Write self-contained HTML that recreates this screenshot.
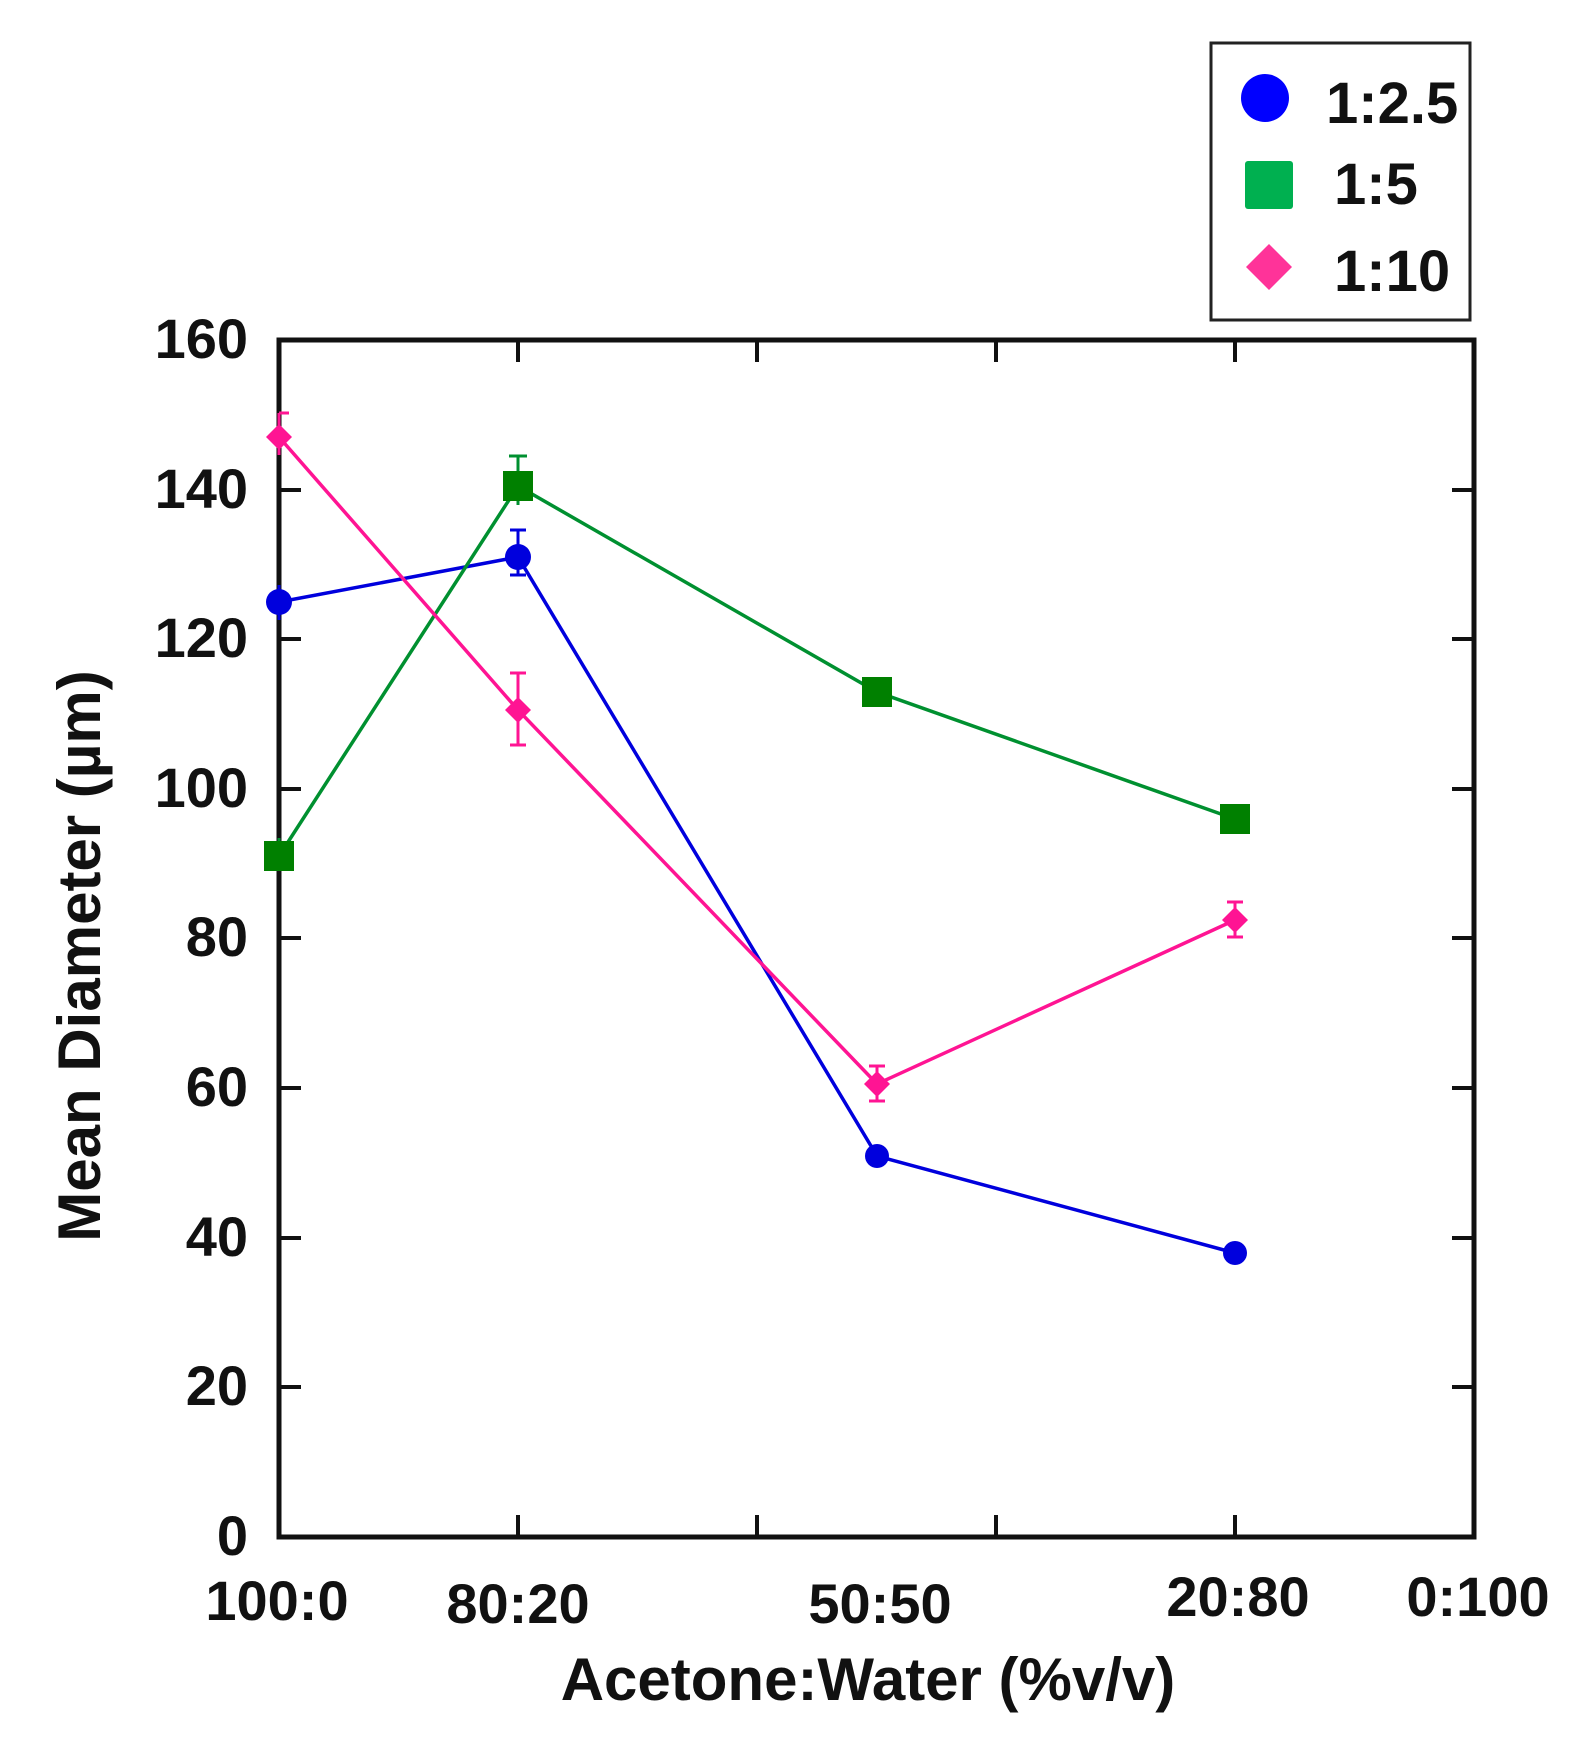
<!DOCTYPE html>
<html><head><meta charset="utf-8"><style>html,body{margin:0;padding:0;background:#fff}svg{display:block}</style></head>
<body>
<svg width="1577" height="1763" viewBox="0 0 1577 1763" xmlns="http://www.w3.org/2000/svg" font-family="Liberation Sans, sans-serif" font-weight="bold">
<rect width="1577" height="1763" fill="#fff"/>
<!-- legend -->
<rect x="1211" y="43" width="259" height="277" fill="#fff" stroke="#222" stroke-width="3"/>
<circle cx="1265" cy="98" r="24" fill="#0000ff"/>
<rect x="1245" y="161" width="48" height="48" rx="3" fill="#00b050"/>
<polygon points="1269,244 1292,267 1269,290 1246,267" fill="#ff3399"/>
<g font-size="58" fill="#111">
<text x="1326" y="123">1:2.5</text>
<text x="1334" y="204">1:5</text>
<text x="1334" y="291">1:10</text>
</g>
<!-- axes -->
<rect x="279" y="340" width="1195" height="1197" fill="none" stroke="#111" stroke-width="5"/>
<g stroke="#111" stroke-width="4">
<line x1="518" y1="340" x2="518" y2="362"/><line x1="757" y1="340" x2="757" y2="362"/><line x1="996" y1="340" x2="996" y2="362"/><line x1="1235" y1="340" x2="1235" y2="362"/>
<line x1="518" y1="1537" x2="518" y2="1515"/><line x1="757" y1="1537" x2="757" y2="1515"/><line x1="996" y1="1537" x2="996" y2="1515"/><line x1="1235" y1="1537" x2="1235" y2="1515"/>
<line x1="279" y1="490" x2="301" y2="490"/><line x1="279" y1="639" x2="301" y2="639"/><line x1="279" y1="789" x2="301" y2="789"/><line x1="279" y1="938" x2="301" y2="938"/><line x1="279" y1="1088" x2="301" y2="1088"/><line x1="279" y1="1238" x2="301" y2="1238"/><line x1="279" y1="1387" x2="301" y2="1387"/>
<line x1="1474" y1="490" x2="1452" y2="490"/><line x1="1474" y1="639" x2="1452" y2="639"/><line x1="1474" y1="789" x2="1452" y2="789"/><line x1="1474" y1="938" x2="1452" y2="938"/><line x1="1474" y1="1088" x2="1452" y2="1088"/><line x1="1474" y1="1238" x2="1452" y2="1238"/><line x1="1474" y1="1387" x2="1452" y2="1387"/>
</g>
<g font-size="56" fill="#111" text-anchor="end">
<text x="248" y="358">160</text><text x="248" y="508">140</text><text x="248" y="657">120</text><text x="248" y="807">100</text><text x="248" y="956">80</text><text x="248" y="1106">60</text><text x="248" y="1256">40</text><text x="248" y="1405">20</text><text x="248" y="1555">0</text>
</g>
<g font-size="56" fill="#111" text-anchor="middle">
<text x="277" y="1620">100:0</text><text x="518" y="1623">80:20</text><text x="880" y="1623">50:50</text><text x="1238" y="1616">20:80</text><text x="1478" y="1616">0:100</text>
</g>
<text x="868" y="1700" font-size="60" text-anchor="middle" fill="#111">Acetone:Water (%v/v)</text>
<text transform="translate(100,956) rotate(-90)" font-size="60" text-anchor="middle" fill="#111">Mean Diameter (µm)</text>
<!-- series -->
<g stroke-width="3.5" fill="none">
<polyline stroke="#0000dd" points="279,602 518,557 877,1156 1235,1253"/>
<polyline stroke="#009030" points="279,856 518,486 877,692 1235,819"/>
<polyline stroke="#ff1493" points="279,437 518,710 877,1084 1235,920"/>
</g>
<g stroke-width="3">
<g stroke="#0000dd"><line x1="279" y1="585" x2="279" y2="620"/><line x1="518" y1="530" x2="518" y2="575"/><line x1="510" y1="530" x2="526" y2="530"/><line x1="510" y1="575" x2="526" y2="575"/><line x1="1235" y1="1245" x2="1235" y2="1262"/></g>
<g stroke="#009030"><line x1="279" y1="838" x2="279" y2="870"/><line x1="518" y1="455" x2="518" y2="505"/><line x1="509" y1="456" x2="527" y2="456"/></g>
<g stroke="#ff1493"><line x1="279" y1="413" x2="279" y2="455"/><line x1="279" y1="413" x2="289" y2="413"/><line x1="518" y1="673" x2="518" y2="745"/><line x1="510" y1="673" x2="526" y2="673"/><line x1="510" y1="745" x2="526" y2="745"/><line x1="877" y1="1066" x2="877" y2="1101"/><line x1="869" y1="1066" x2="885" y2="1066"/><line x1="869" y1="1101" x2="885" y2="1101"/><line x1="1235" y1="902" x2="1235" y2="937"/><line x1="1227" y1="902" x2="1243" y2="902"/><line x1="1227" y1="937" x2="1243" y2="937"/></g>
</g>
<g fill="#0000dd"><circle cx="279" cy="602" r="13"/><circle cx="518" cy="557" r="13"/><circle cx="877" cy="1156" r="12"/><circle cx="1235" cy="1253" r="12"/></g>
<g fill="#008000"><rect x="264" y="841" width="30" height="30"/><rect x="503" y="471" width="30" height="30"/><rect x="862" y="677" width="30" height="30"/><rect x="1220" y="804" width="30" height="30"/></g>
<g fill="#ff1493"><polygon points="279,424 292,437 279,450 266,437"/><polygon points="518,697 531,710 518,723 505,710"/><polygon points="877,1071 890,1084 877,1097 864,1084"/><polygon points="1235,907 1248,920 1235,933 1222,920"/></g>
</svg>
</body></html>
